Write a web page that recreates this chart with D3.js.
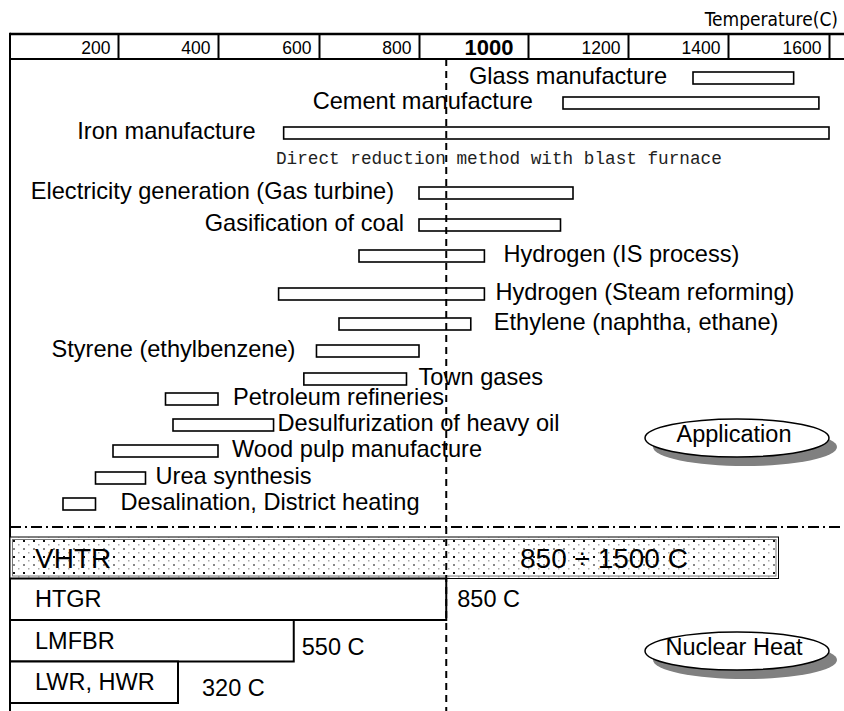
<!DOCTYPE html>
<html>
<head>
<meta charset="utf-8">
<script src="https://cdn.jsdelivr.net/npm/d3@7"></script>
<style>
  body { margin: 0; background: #fff; }
  svg { display: block; }
</style>
</head>
<body>
<svg id="chart" width="844" height="711"></svg>
<script>
// ---- data ----------------------------------------------------------------
const tickVals = [200, 400, 600, 800, 1000, 1200, 1400, 1600];

const appNames = [
  "Glass manufacture", "Cement manufacture", "Iron manufacture",
  "Electricity generation (Gas turbine)", "Gasification of coal",
  "Hydrogen (IS process)", "Hydrogen (Steam reforming)",
  "Ethylene (naphtha, ethane)", "Styrene (ethylbenzene)", "Town gases",
  "Petroleum refineries", "Desulfurization of heavy oil",
  "Wood pulp manufacture", "Urea synthesis", "Desalination, District heating"
];
const appLow  = [1330, 1070,  530,  800,  800, 680, 520, 640, 595, 570, 295, 310, 190, 155,  90];
const appHigh = [1530, 1580, 1600, 1090, 1065, 920, 920, 895, 800, 775, 400, 510, 400, 255, 155];
const ironNote = "Direct reduction method with blast furnace";

const reactorNames = ["VHTR", "HTGR", "LMFBR", "LWR, HWR"];
const reactorMax   = [1500, 850, 550, 320];
const reactorText  = ["850 ÷ 1500 C", "850 C", "550 C", "320 C"];
const htgrLimit = 850;

// ---- layout --------------------------------------------------------------
const W = 844, H = 711;
const frameLeft = 10;
const headTop = 34, headBottom = 59;
const appDivider = 527;

// label placement for each application row
const labelSide = ["left", "left", "left", "left", "left", "right", "right", "right",
                   "left", "right", "right", "right", "right", "right", "right"];
const labelGap  = [26, 30, 28, 25, 15, 19, 11, 23, 21, 12, 15, 4, 14, 10, 25];
const rowCenter = [78, 103, 133, 193, 225, 256, 294, 324, 351, 379, 399, 425, 451, 478, 504];
const noteY = 158;
const barH = 12;

const FONT = "'Liberation Sans', Arial, Helvetica, sans-serif";
const NARROW = "'Liberation Sans Narrow', 'Arial Narrow', 'DejaVu Sans Condensed', sans-serif";

const svg = d3.select("#chart");

// temperature scale: header cells are equal except the wider 1000 cell
const x = d3.scaleLinear()
  .domain([0, ...tickVals])
  .range([18, 118, 218, 319, 419, 528, 628, 728, 829]);

// ---- header ---------------------------------------------------------------
svg.append("text")
  .attr("x", 838).attr("y", 26)
  .attr("text-anchor", "end")
  .attr("font-family", NARROW).attr("font-size", 19)
  .text("Temperature(C)");

const axis = d3.axisTop(x).tickValues(tickVals).tickSize(headBottom - headTop).tickFormat(d3.format("d"));
const axG = svg.append("g").attr("transform", `translate(0,${headBottom})`).call(axis);
axG.select(".domain").remove();
axG.selectAll(".tick line").attr("stroke", "#000").attr("stroke-width", 2);
axG.selectAll(".tick text")
  .attr("font-family", FONT)
  .attr("font-size", d => d === 1000 ? 22 : 17.5)
  .attr("font-weight", d => d === 1000 ? "bold" : "normal")
  .attr("fill", "#000")
  .attr("text-anchor", "end")
  .attr("x", d => d === 1000 ? -15 : -8)
  .attr("y", d => -(headBottom - headTop) / 2 + 1)
  .attr("dy", "0.36em");

// frame lines
svg.append("line").attr("x1", frameLeft).attr("x2", W).attr("y1", headTop).attr("y2", headTop)
  .attr("stroke", "#000").attr("stroke-width", 2.5);
svg.append("line").attr("x1", frameLeft).attr("x2", W).attr("y1", headBottom).attr("y2", headBottom)
  .attr("stroke", "#000").attr("stroke-width", 2);
svg.append("line").attr("x1", frameLeft).attr("x2", frameLeft).attr("y1", headTop - 1.2).attr("y2", H)
  .attr("stroke", "#000").attr("stroke-width", 2);

// ---- application bars -------------------------------------------------------
const apps = appNames.map((name, i) => ({
  name, lo: appLow[i], hi: appHigh[i], side: labelSide[i], gap: labelGap[i], y: rowCenter[i]
}));

const appG = svg.append("g");
appG.selectAll("rect").data(apps).join("rect")
  .attr("x", d => x(d.lo))
  .attr("y", d => d.y - barH / 2)
  .attr("width", d => x(d.hi) - x(d.lo))
  .attr("height", barH)
  .attr("fill", "#fff").attr("stroke", "#000").attr("stroke-width", 1.6);

appG.selectAll("text").data(apps).join("text")
  .attr("x", d => d.side === "left" ? x(d.lo) - d.gap : x(d.hi) + d.gap)
  .attr("y", d => d.y + 6)
  .attr("text-anchor", d => d.side === "left" ? "end" : "start")
  .attr("font-family", FONT).attr("font-size", 23.6)
  .text(d => d.name);

svg.append("text")
  .attr("x", 276).attr("y", noteY + 6)
  .attr("font-family", "'Liberation Mono', 'Courier New', monospace")
  .attr("font-size", 17.7).attr("fill", "#222")
  .text(ironNote);

// ---- ellipse badges ---------------------------------------------------------
function badge(cx, cy, label) {
  const g = svg.append("g");
  g.append("ellipse").attr("cx", cx + 8).attr("cy", cy + 9).attr("rx", 92).attr("ry", 19)
    .attr("fill", "#808080");
  g.append("ellipse").attr("cx", cx).attr("cy", cy).attr("rx", 92).attr("ry", 19)
    .attr("fill", "#fff").attr("stroke", "#000").attr("stroke-width", 1.5);
  g.append("text").attr("x", cx - 3).attr("y", cy + 4)
    .attr("text-anchor", "middle").attr("font-family", FONT).attr("font-size", 23.5)
    .text(label);
}
badge(737, 438, "Application");
badge(737, 651, "Nuclear Heat");

// ---- divider between applications and reactors -----------------------------
svg.append("line").attr("x1", frameLeft).attr("x2", W).attr("y1", appDivider).attr("y2", appDivider)
  .attr("stroke", "#000").attr("stroke-width", 2).attr("stroke-dasharray", "11,4,2,4");

// ---- reactor rows -----------------------------------------------------------
const defs = svg.append("defs");
const pat = defs.append("pattern").attr("id", "dots").attr("patternUnits", "userSpaceOnUse")
  .attr("width", 10).attr("height", 16).attr("x", 12).attr("y", 539);
pat.append("rect").attr("width", 10).attr("height", 16).attr("fill", "#fff");
pat.append("rect").attr("x", 1).attr("y", 1).attr("width", 2).attr("height", 2).attr("fill", "#111");
pat.append("rect").attr("x", 1).attr("y", 9).attr("width", 2).attr("height", 2).attr("fill", "#888");
pat.append("rect").attr("x", 6).attr("y", 5).attr("width", 1.5).attr("height", 1.5).attr("fill", "#aaa");
pat.append("rect").attr("x", 6).attr("y", 13).attr("width", 1.5).attr("height", 1.5).attr("fill", "#aaa");

const reactors = reactorNames.map((name, i) => ({ name, t: reactorMax[i], label: reactorText[i] }));
const yR = d3.scaleBand().domain(reactorNames).range([537, 703]).padding(0);

const rG = svg.append("g");
rG.selectAll("rect.r").data(reactors).join("rect")
  .attr("class", "r")
  .attr("x", frameLeft)
  .attr("y", d => yR(d.name))
  .attr("width", d => x(d.t) - frameLeft)
  .attr("height", yR.bandwidth())
  .attr("fill", (d, i) => i === 0 ? "url(#dots)" : "#fff")
  .attr("stroke", "#000").attr("stroke-width", (d, i) => i === 0 ? 1 : 2);

// inner rule of the VHTR band
rG.append("rect")
  .attr("x", frameLeft + 2.5).attr("y", yR("VHTR") + 2.5)
  .attr("width", x(reactorMax[0]) - frameLeft - 5).attr("height", yR.bandwidth() - 5)
  .attr("fill", "none").attr("stroke", "#777").attr("stroke-width", 1);

// reactor names
rG.selectAll("text.n").data(reactors).join("text")
  .attr("class", "n")
  .attr("x", 35)
  .attr("y", d => yR(d.name) + yR.bandwidth() / 2 + (d.name === "VHTR" ? 10 : 8))
  .attr("font-family", FONT)
  .attr("font-size", d => d.name === "VHTR" ? 28 : 23.5)
  .text(d => d.name);

// reactor temperature labels
const valDx = [0, 11, 8, 24];
const valDy = [10, 8, 14, 14];
rG.selectAll("text.v").data(reactors).join("text")
  .attr("class", "v")
  .attr("x", (d, i) => i === 0 ? 520 : x(d.t) + valDx[i])
  .attr("y", (d, i) => yR(d.name) + yR.bandwidth() / 2 + valDy[i])
  .attr("font-family", FONT)
  .attr("font-size", (d, i) => i === 0 ? 28 : 23.5)
  .text(d => d.label);

// ---- 850 C reference line ---------------------------------------------------
svg.append("line")
  .attr("x1", x(htgrLimit)).attr("x2", x(htgrLimit))
  .attr("y1", headBottom).attr("y2", H)
  .attr("stroke", "#000").attr("stroke-width", 2).attr("stroke-dasharray", "7,5");
</script>
</body>
</html>
